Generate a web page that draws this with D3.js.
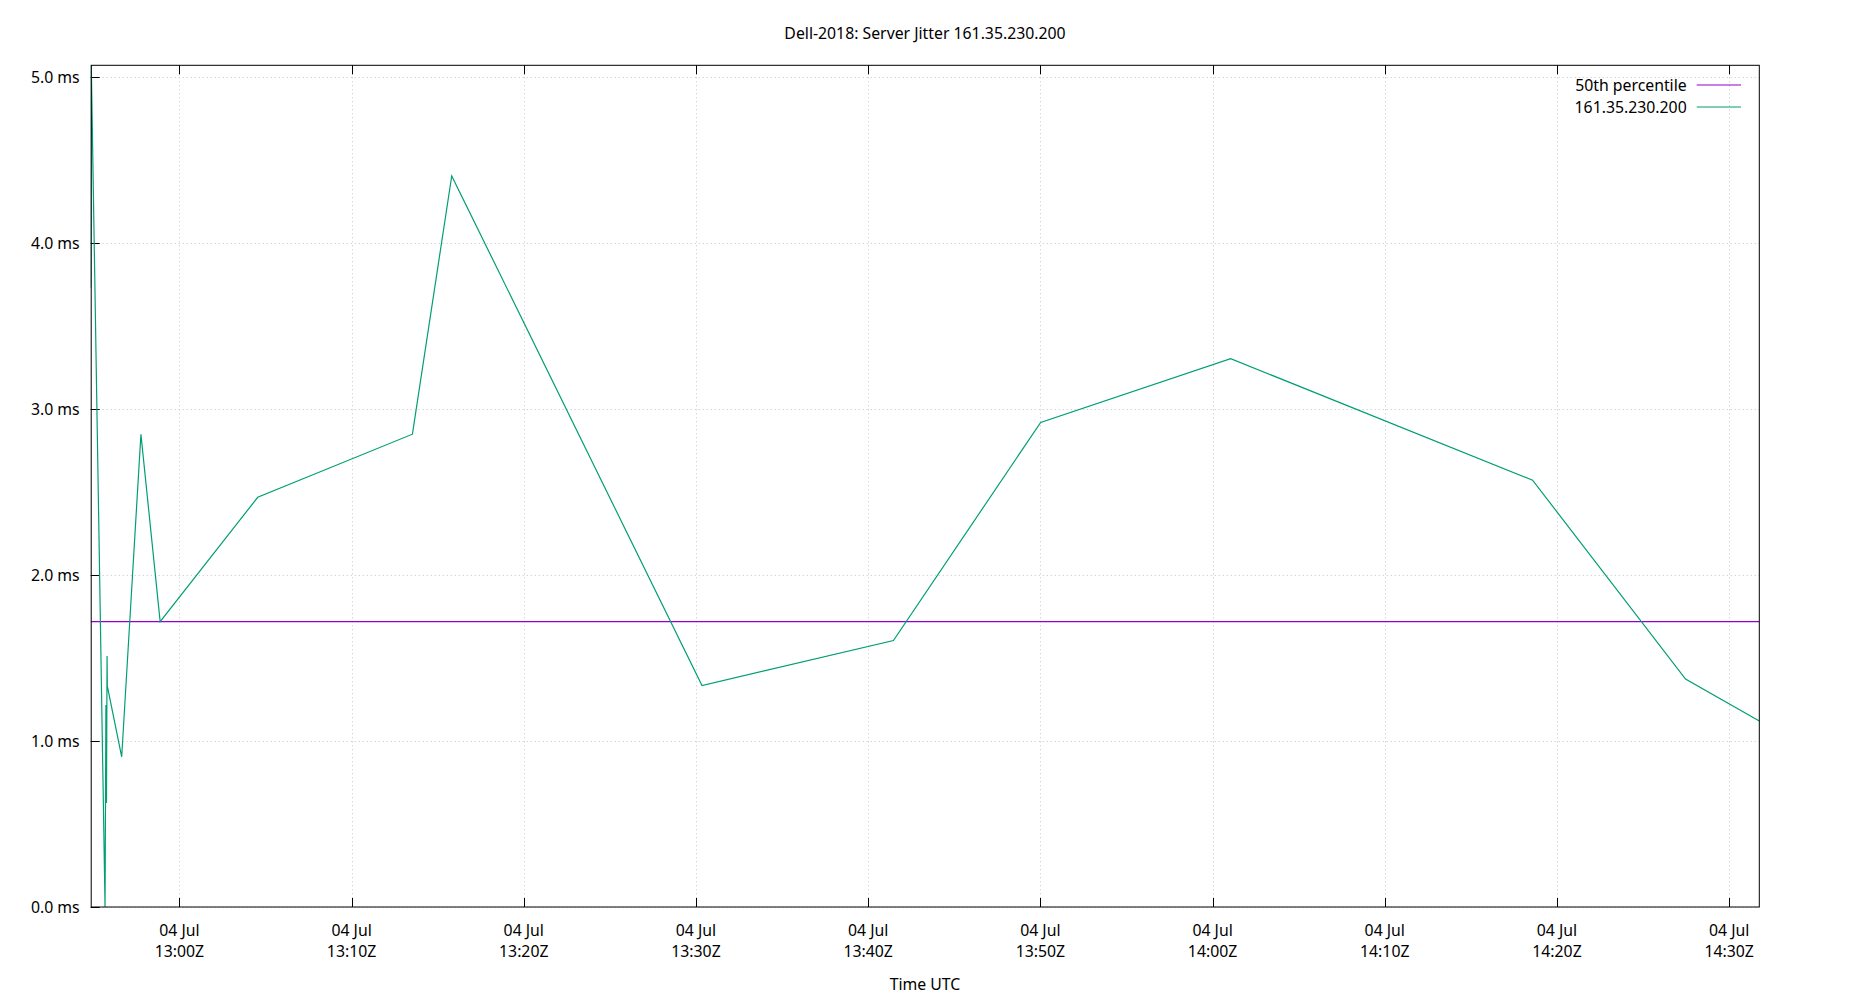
<!DOCTYPE html>
<html>
<head>
<meta charset="utf-8">
<script src="https://cdn.jsdelivr.net/npm/d3@7"></script>
<style>
  html, body { margin: 0; padding: 0; background: #fff; }
  svg { display: block; }
  text { font-family: "Noto Sans", "Open Sans", sans-serif; fill: #000; }
</style>
</head>
<body>
<svg id="chart" width="1850" height="1000"></svg>
<script>
// ---- data ----
const times = [
  "2020-07-04T12:54:51Z", "2020-07-04T12:54:53Z", "2020-07-04T12:54:56Z",
  "2020-07-04T12:55:41Z", "2020-07-04T12:55:44Z", "2020-07-04T12:55:46Z",
  "2020-07-04T12:55:48Z", "2020-07-04T12:55:49Z", "2020-07-04T12:56:39Z",
  "2020-07-04T12:57:46Z", "2020-07-04T12:58:53Z", "2020-07-04T13:04:33Z",
  "2020-07-04T13:13:32Z", "2020-07-04T13:15:49Z", "2020-07-04T13:30:21Z",
  "2020-07-04T13:41:28Z", "2020-07-04T13:50:01Z", "2020-07-04T14:01:03Z",
  "2020-07-04T14:18:35Z", "2020-07-04T14:27:28Z", "2020-07-04T14:31:45Z"
];
const jitterMs = [
  3.73, 5.07, 4.76,
  0.0, 1.217, 0.627,
  1.512, 1.33, 0.905,
  2.848, 1.719, 2.468,
  2.848, 4.404, 1.334,
  1.605, 2.919, 3.303,
  2.571, 1.373, 1.120
];
const medianMs = 1.7187;
const yTickValues = [0, 1, 2, 3, 4, 5];
const yMax = 5.07;
const titleText = "Dell-2018: Server Jitter 161.35.230.200";
const xLabelText = "Time UTC";
const legendLabels = ["50th percentile", "161.35.230.200"];
const seriesColors = ["#9400d3", "#009e73"];

// ---- layout ----
const W = 1850, H = 1000;
const m = { left: 90.7, right: 90.7, top: 65.3, bottom: 93 };
const svg = d3.select("#chart");

const data = times.map((t, i) => ({ t: new Date(t), v: jitterMs[i] }));

const x = d3.scaleUtc()
  .domain(d3.extent(data, d => d.t))
  .range([m.left, W - m.right]);
const y = d3.scaleLinear()
  .domain([0, yMax])
  .range([H - m.bottom, m.top]);

const xTicks = x.ticks(d3.utcMinute.every(10));
const fmtDate = d3.utcFormat("%d %b");
const fmtTime = d3.utcFormat("%H:%MZ");

// grid
const grid = svg.append("g").attr("stroke", "#c4c4c4").attr("stroke-width", 1)
  .attr("stroke-dasharray", "1,3");
grid.selectAll("line.gx").data(xTicks).join("line")
  .attr("x1", d => Math.round(x(d)) + 0.5).attr("x2", d => Math.round(x(d)) + 0.5)
  .attr("y1", m.top).attr("y2", H - m.bottom);
grid.selectAll("line.gy").data(yTickValues).join("line")
  .attr("y1", d => Math.round(y(d)) + 0.5).attr("y2", d => Math.round(y(d)) + 0.5)
  .attr("x1", m.left).attr("x2", W - m.right);

// axes with inward ticks
const tickLen = 9;
const axisG = svg.append("g").attr("stroke", "#000").attr("stroke-width", 1);
axisG.selectAll("line.xb").data(xTicks).join("line")
  .attr("x1", d => Math.round(x(d)) + 0.5).attr("x2", d => Math.round(x(d)) + 0.5)
  .attr("y1", H - m.bottom).attr("y2", H - m.bottom - tickLen);
axisG.selectAll("line.xt").data(xTicks).join("line")
  .attr("x1", d => Math.round(x(d)) + 0.5).attr("x2", d => Math.round(x(d)) + 0.5)
  .attr("y1", m.top).attr("y2", m.top + tickLen);
axisG.selectAll("line.yl").data(yTickValues).join("line")
  .attr("y1", d => Math.round(y(d)) + 0.5).attr("y2", d => Math.round(y(d)) + 0.5)
  .attr("x1", m.left).attr("x2", m.left + tickLen);

// tick labels
const fs = 15.8;
svg.append("g").selectAll("text").data(yTickValues).join("text")
  .attr("x", m.left - 11).attr("y", d => y(d) + 6)
  .attr("text-anchor", "end").attr("font-size", fs)
  .text(d => d3.format(".1f")(d) + " ms");
const xl = svg.append("g").selectAll("g").data(xTicks).join("g");
xl.append("text").attr("x", d => x(d)).attr("y", H - m.bottom + 29)
  .attr("text-anchor", "middle").attr("font-size", fs).text(d => fmtDate(d));
xl.append("text").attr("x", d => x(d)).attr("y", H - m.bottom + 50)
  .attr("text-anchor", "middle").attr("font-size", fs).text(d => fmtTime(d));

// clip
svg.append("clipPath").attr("id", "clip").append("rect")
  .attr("x", m.left).attr("y", m.top)
  .attr("width", W - m.left - m.right).attr("height", H - m.top - m.bottom);

// median line
svg.append("line").attr("clip-path", "url(#clip)")
  .attr("x1", m.left).attr("x2", W - m.right)
  .attr("y1", y(medianMs)).attr("y2", y(medianMs))
  .attr("stroke", seriesColors[0]).attr("stroke-width", 1.2);

// series line
const line = d3.line().x(d => x(d.t)).y(d => y(d.v));
svg.append("path").datum(data).attr("clip-path", "url(#clip)")
  .attr("d", line).attr("fill", "none")
  .attr("stroke", seriesColors[1]).attr("stroke-width", 1.2)
  .attr("stroke-linejoin", "miter");

// frame
svg.append("rect").attr("x", m.left + 0.5).attr("y", m.top)
  .attr("width", W - m.left - m.right - 0.5).attr("height", H - m.top - m.bottom)
  .attr("fill", "none").attr("stroke", "#000").attr("stroke-width", 1);

// title
svg.append("text").attr("x", W / 2).attr("y", 39).attr("text-anchor", "middle")
  .attr("font-size", fs).text(titleText);
// x label
svg.append("text").attr("x", W / 2).attr("y", 990).attr("text-anchor", "middle")
  .attr("font-size", fs).text(xLabelText);

// legend
const lg = svg.append("g");
legendLabels.forEach((lab, i) => {
  const yy = 85 + i * 22;
  lg.append("text").attr("x", 1686.7).attr("y", yy + 6).attr("text-anchor", "end")
    .attr("font-size", fs).text(lab);
  lg.append("line").attr("x1", 1696.7).attr("x2", 1741).attr("y1", yy).attr("y2", yy)
    .attr("stroke", seriesColors[i]).attr("stroke-width", 1.2);
});
</script>
</body>
</html>
